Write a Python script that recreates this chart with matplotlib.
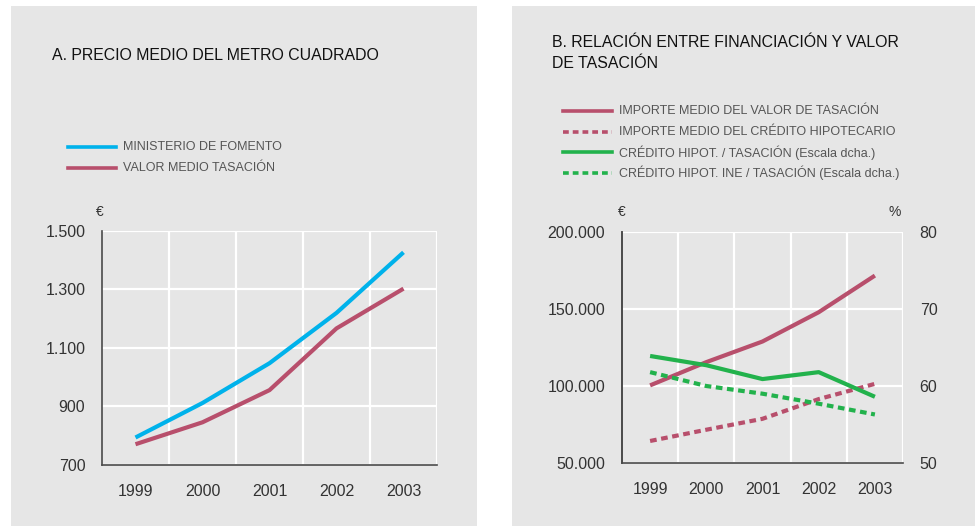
import matplotlib
matplotlib.use("Agg")
import matplotlib.pyplot as plt
from matplotlib.patches import Rectangle
from matplotlib.ticker import FuncFormatter

plt.rcParams['font.family'] = ['Liberation Sans', 'DejaVu Sans']

years = ["1999", "2000", "2001", "2002", "2003"]

# A. precio medio del metro cuadrado (EUR)
fomento = [794, 912, 1048, 1220, 1427]
tasacion_m2 = [771, 846, 956, 1167, 1303]

# B. relacion entre financiacion y valor de tasacion
importe_tasacion = [100400, 115500, 128900, 147900, 171700]
importe_credito = [64300, 71600, 78700, 91500, 101400]
credito_tasacion = [63.9, 62.7, 60.9, 61.8, 58.6]
credito_ine_tasacion = [61.8, 60.0, 59.0, 57.7, 56.3]

BG = "#e6e6e6"
BLUE = "#00b2eb"
RED = "#b84f6c"
GREEN = "#22b24c"
SPINE = "#4a4a4a"
TXT = "#333333"
DOTS = (0, (1.6, 1.1))

W, H = 975, 526
fig = plt.figure(figsize=(W / 100, H / 100), dpi=100)
fig.patch.set_facecolor("white")


def px(x0, y0, x1, y1):
    # pixel box -> figure fraction rect
    return [x0 / W, 1 - y1 / H, (x1 - x0) / W, (y1 - y0) / H]


def thousands(v, _):
    return f"{int(v):,}".replace(",", ".")


# gray panels, behind everything
for x0, x1 in [(10.5, 477), (512, 975)]:
    fig.patches.append(Rectangle((x0 / W, 0), (x1 - x0) / W, 1 - 6 / H,
                                 transform=fig.transFigure, facecolor=BG,
                                 edgecolor="none", zorder=-10))


def style_axes(ax):
    ax.set_facecolor(BG)
    ax.set_xlim(-0.5, 4.5)
    ax.set_xticks(range(len(years)))
    ax.set_xticklabels(years)
    ax.set_xticks([i + 0.5 for i in range(len(years))], minor=True)
    ax.grid(which="minor", axis="x", color="white", lw=1.6)
    ax.grid(which="major", axis="y", color="white", lw=1.6)
    ax.tick_params(which="both", length=0)
    ax.tick_params(axis="x", pad=14, labelsize=11.5, colors=TXT)
    ax.tick_params(axis="y", pad=12, labelsize=11.5, colors=TXT)
    for s in ["top", "right"]:
        ax.spines[s].set_visible(False)
    for s in ["left", "bottom"]:
        ax.spines[s].set_color(SPINE)
        ax.spines[s].set_linewidth(1.2)
    ax.set_axisbelow(True)


# ---------- panel A ----------
axA = fig.add_axes(px(102, 231, 437, 465))
style_axes(axA)
axA.set_ylim(700, 1500)
axA.set_yticks([700, 900, 1100, 1300, 1500])
axA.yaxis.set_major_formatter(FuncFormatter(thousands))
x = range(len(years))
axA.plot(x, fomento, color=BLUE, lw=3, solid_capstyle="butt", zorder=3)
axA.plot(x, tasacion_m2, color=RED, lw=3, solid_capstyle="butt", zorder=3)

fig.text(52 / W, 1 - 56 / H, "A. PRECIO MEDIO DEL METRO CUADRADO",
         fontsize=11.4, color="#111111", va="center", ha="left")
fig.text(100 / W, 1 - 212 / H, "€", fontsize=10, color=TXT, va="center", ha="center")

legA = [("MINISTERIO DE FOMENTO", BLUE, "-"), ("VALOR MEDIO TASACIÓN", RED, "-")]
for i, (lab, c, ls) in enumerate(legA):
    yy = 1 - (147 + 21 * i) / H
    fig.add_artist(plt.Line2D([68 / W, 116 / W], [yy, yy], color=c, lw=2.6,
                              ls=ls, transform=fig.transFigure))
    fig.text(123 / W, yy, lab, fontsize=9, color="#555555", va="center",
             ha="left")

# ---------- panel B ----------
axB = fig.add_axes(px(622, 232, 903, 463))
style_axes(axB)
axB.set_ylim(50000, 200000)
axB.set_yticks([50000, 100000, 150000, 200000])
axB.yaxis.set_major_formatter(FuncFormatter(thousands))
axB.plot(x, importe_tasacion, color=RED, lw=3, solid_capstyle="butt", zorder=3)
axB.plot(x, importe_credito, color=RED, lw=3, ls=DOTS, zorder=3)

axB2 = axB.twinx()
axB2.set_ylim(50, 80)
axB2.set_yticks([50, 60, 70, 80])
axB2.tick_params(length=0, pad=12, labelsize=11.5, colors=TXT)
for s in axB2.spines.values():
    s.set_visible(False)
axB2.spines["left"].set_visible(True)
axB2.spines["left"].set_color(SPINE)
axB2.spines["left"].set_linewidth(1.2)
axB2.plot(x, credito_tasacion, color=GREEN, lw=3, solid_capstyle="butt", zorder=3)
axB2.plot(x, credito_ine_tasacion, color=GREEN, lw=3, ls=DOTS, zorder=3)

fig.text(552 / W, 1 - 53 / H, "B. RELACIÓN ENTRE FINANCIACIÓN Y VALOR\nDE TASACIÓN",
         fontsize=11.4, color="#111111", va="center", ha="left", linespacing=1.5)
fig.text(622 / W, 1 - 212 / H, "€", fontsize=10, color=TXT, va="center", ha="center")
fig.text(895 / W, 1 - 212 / H, "%", fontsize=10, color=TXT, va="center", ha="center")

legB = [("IMPORTE MEDIO DEL VALOR DE TASACIÓN", RED, "-"),
        ("IMPORTE MEDIO DEL CRÉDITO HIPOTECARIO", RED, DOTS),
        ("CRÉDITO HIPOT. / TASACIÓN (Escala dcha.)", GREEN, "-"),
        ("CRÉDITO HIPOT. INE / TASACIÓN (Escala dcha.)", GREEN, DOTS)]
for i, (lab, c, ls) in enumerate(legB):
    yy = 1 - (111 + 20.7 * i) / H
    fig.add_artist(plt.Line2D([563 / W, 612 / W], [yy, yy], color=c, lw=2.6,
                              ls=ls, transform=fig.transFigure))
    fig.text(619 / W, yy, lab, fontsize=9, color="#555555", va="center",
             ha="left")

fig.savefig("out.png", dpi=100, facecolor=fig.get_facecolor())
